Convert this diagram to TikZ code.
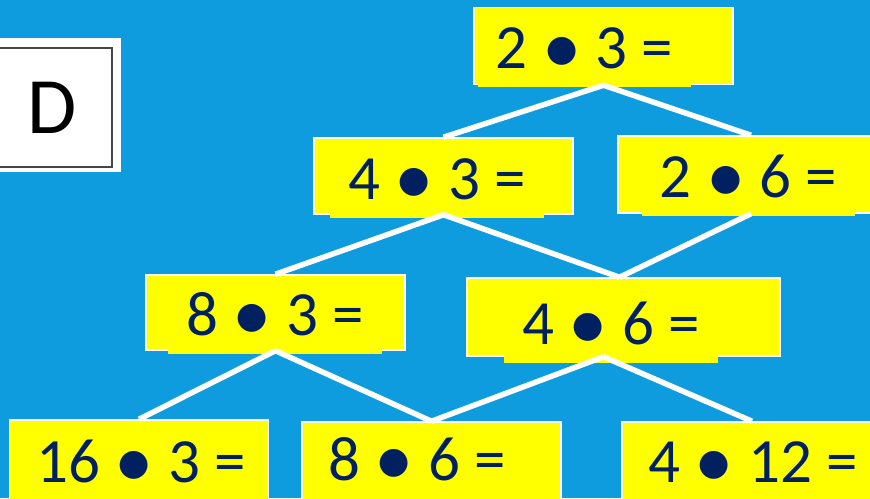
\documentclass[tikz,border=0pt]{standalone}
\usepackage{fontspec}
\setmainfont{Carlito}
\usepackage{xcolor}
\usepackage{graphicx}
\usetikzlibrary{positioning,calc}
\definecolor{skyBg}{RGB}{14,156,222}
\definecolor{termNavy}{RGB}{0,32,96}
\definecolor{termYellow}{RGB}{255,255,0}
\definecolor{frameGray}{RGB}{70,70,70}
\newcommand\mdot{\raisebox{-0.08em}{\scalebox{1.25}{•}}}

\begin{document}
\begin{tikzpicture}[x=1pt, y=-1pt,
  box/.style={draw=white, line width=1.5pt, fill=termYellow, minimum width=259pt,
              minimum height=76pt, inner sep=0pt},
  term/.style={fill=termYellow, text=termNavy, anchor=base, inner xsep=18pt, inner ysep=0pt,
               text height=50pt, text depth=18.5pt, font=\fontsize{63}{70}\selectfont},
  link/.style={draw=white, line width=5.5pt}
]
  \useasboundingbox (0,0) rectangle (870,498);
  \clip (0,0) rectangle (870,498);
  \fill[skyBg] (0,0) rectangle (870,498);

  % letter card
  \fill[white] (-5,38) rectangle (121,172);
  \node[draw=frameGray, line width=1.2pt, minimum width=120pt, minimum height=119pt,
        font=\fontsize{80}{90}\selectfont] (card) at (52,107.5) {D};

  % boxes of the tree
  \node[box, minimum height=77pt] (b1) at (603.5,46) {};
  \node[box] (b2) at (443.5,176) {};
  \node[box, minimum width=266pt, minimum height=77pt] (b3) at (751,174.5) {};
  \node[box, minimum height=75pt] (b4) at (275.5,312.5) {};
  \node[box, minimum width=313pt, minimum height=78pt] (b5) at (623.5,317) {};
  \node[box, minimum height=80pt] (b6) at (139,460) {};
  \node[box, minimum height=78pt] (b7) at (431.5,461) {};
  \node[box, minimum width=260pt, minimum height=78pt] (b8) at (752,461) {};

  % terms
  \node[term] (t1) at (584.5,68) {2 \mdot{} 3 =};
  \node[term] (t2) at (437,199) {4 \mdot{} 3 =};
  \node[term] (t3) at (748.5,197) {2 \mdot{} 6 =};
  \node[term] (t4) at (275,335) {8 \mdot{} 3 =};
  \node[term] (t5) at (611,344) {4 \mdot{} 6 =};
  \node[term] (t6) at (141,482) {16 \mdot{} 3 =};
  \node[term] (t7) at (417,480) {8 \mdot{} 6 =};
  \node[term] (t8) at (753,482) {4 \mdot{} 12 =};

  % branches
  \draw[link] (b1.south) -- (b2.north);
  \draw[link] (b1.south) -- (b3.north);
  \draw[link] (b2.south) -- (b4.north);
  \draw[link] (b2.south) -- ([xshift=-4pt]b5.north);
  \draw[link] (b3.south) -- ([xshift=-4pt]b5.north);
  \draw[link] (b4.south) -- (b6.north);
  \draw[link] (b4.south) -- (b7.north);
  \draw[link] ([xshift=-20pt]b5.south) -- (b7.north);
  \draw[link] ([xshift=-20pt]b5.south) -- (b8.north);
\end{tikzpicture}
\end{document}
